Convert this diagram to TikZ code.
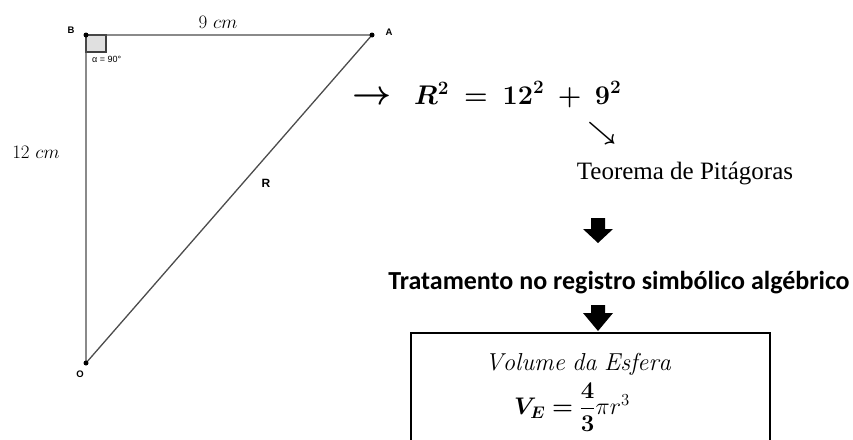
\RequirePackage{fix-cm}
\documentclass[tikz,border=0pt]{standalone}
\usepackage{amsmath}
\usepackage{bm}
\usepackage{fontspec}
\newfontfamily\serifT{Liberation Serif}
\newfontfamily\calib{Carlito}
\newfontfamily\lab{Liberation Sans}
\newcommand{\gapsp}{\hspace{0.28em}}
\begin{document}
\begin{tikzpicture}[x=1pt,y=-1pt,
  pt/.style={circle,fill=black,inner sep=0pt,minimum size=5pt},
  side/.style={draw=black!70,line width=1.3pt},
  ptlab/.style={font=\lab\bfseries\fontsize{9.5}{11}\selectfont,inner sep=1pt},
  blockarrow/.style={fill=black}]
\useasboundingbox (0,0) rectangle (853,439);
% triangle
\coordinate (B) at (86,35);
\coordinate (A) at (372,35);
\coordinate (O) at (86,363);
\fill[black!12] (B) rectangle (106,52);
\draw[line width=1.1pt,black!75] (B) rectangle (106,52);
\draw[side] (B) -- (A) -- (O) -- cycle;
\node[pt] (Bp) at (B) {};
\node[pt] (Ap) at (A) {};
\node[pt] (Op) at (O) {};
\node[ptlab] (Bl) at (71,30) {B};
\node[ptlab] (Al) at (389,32) {A};
\node[ptlab] (Ol) at (80,374) {O};
\node[ptlab,font=\lab\bfseries\fontsize{12}{13}\selectfont] (Rl) at (266,183) {R};
\node[font=\lab\fontsize{9}{10}\selectfont,inner sep=0pt,anchor=west] (ang) at (92,59) {α = 90°};
\node[font=\fontsize{19}{22}\selectfont] (nine) at (218,22) {$9\ cm$};
\node[font=\fontsize{19}{22}\selectfont] (twelve) at (36,152) {$12\ cm$};
% right part
\node[font=\fontsize{34}{38}\selectfont,anchor=base west,inner sep=0pt] (arr) at (352,104) {$\bm{\rightarrow}$};
\node[font=\fontsize{27}{32}\selectfont,anchor=base west,inner sep=0pt] (eq) at (414,104) {$\bm{R^2}\gapsp\bm{=}\gapsp\bm{12^2}\gapsp\bm{+}\gapsp\bm{9^2}$};
\node[font=\fontsize{24.88}{28}\selectfont,inner sep=0pt] (diag) at (602,133) {$\bm{\searrow}$};
\node[font=\serifT\fontsize{25}{30}\selectfont,inner sep=0pt] (teo) at (685,174) {Teorema de Pitágoras};
\fill[blockarrow] (591,218) -- (605,218) -- (605,229) -- (613,229) -- (598,243) -- (583,229) -- (591,229) -- cycle;
\node[font=\calib\bfseries\fontsize{26}{30}\selectfont,inner sep=0pt] (trat) at (619,283) {Tratamento no registro simbólico algébrico};
\fill[blockarrow] (591,305) -- (605,305) -- (605,313) -- (613,313) -- (598,331) -- (583,313) -- (591,313) -- cycle;
\draw[line width=1.1pt] (411,445) -- (411,333) -- (770,333) -- (770,445);
\node[font=\fontsize{24.5}{28}\selectfont,inner sep=0pt] (vol) at (578,364) {$\mathit{Volume\ da\ Esfera}$};
\node[font=\fontsize{24}{28}\selectfont,inner sep=0pt] (ve) at (572,407) {$\bm{V_E} \mathrel{\bm{=}} \dfrac{\bm{4}}{\bm{3}}\pi r^3$};
\end{tikzpicture}
\end{document}
